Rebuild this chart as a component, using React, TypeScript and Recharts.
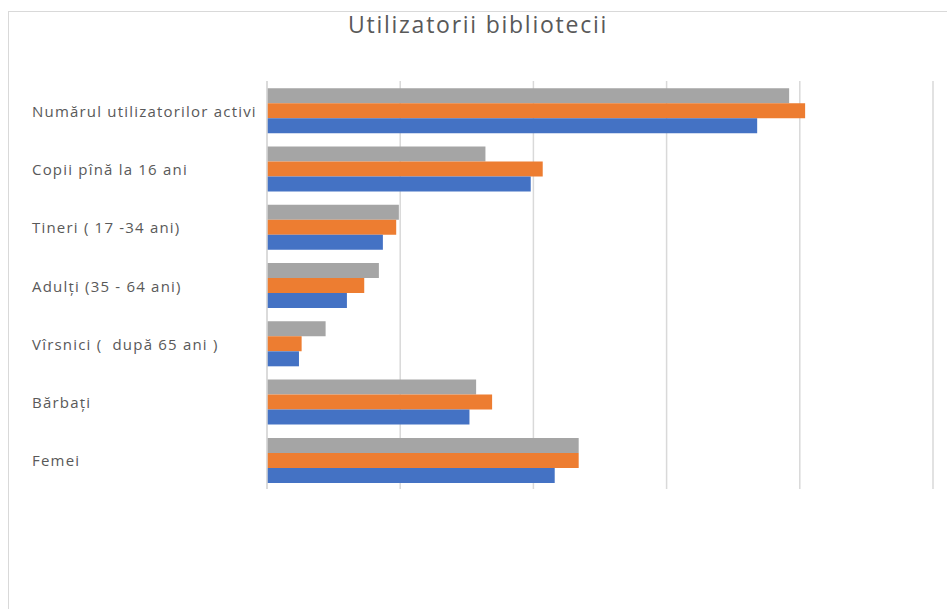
import React from "react";
import { BarChart, Bar, XAxis, YAxis, CartesianGrid } from "recharts";

const categories = [
  "Numărul utilizatorilor activi",
  "Copii pînă la 16 ani",
  "Tineri ( 17 -34 ani)",
  "Adulți (35 - 64 ani)",
  "Vîrsnici (  după 65 ani )",
  "Bărbați",
  "Femei",
];

// three series (grid step = 100)
const seriaGri = [392, 164, 99, 84, 44, 157, 234];
const seriaPortocalie = [404, 207, 97, 73, 26, 169, 234];
const seriaAlbastra = [368, 198, 87, 60, 24, 152, 216];

const xTicks = [0, 100, 200, 300, 400, 500];

const data = categories.map((name, i) => ({
  name,
  gri: seriaGri[i],
  portocaliu: seriaPortocalie[i],
  albastru: seriaAlbastra[i],
}));

const FONT = "'Open Sans', 'Noto Sans', sans-serif";

const CategoryTick = ({ y, payload }: any) => (
  <text
    x={32}
    y={y}
    dy={6.5}
    textAnchor="start"
    fill="#595959"
    fontSize={15}
    letterSpacing={1.2}
    fontFamily={FONT}
    style={{ whiteSpace: "pre" }}
  >
    {payload.value}
  </text>
);

// x ticks are not labelled in the picture, only the grid shows them
const EmptyTick = () => <g />;

export default function App() {
  return (
    <div
      style={{
        position: "absolute",
        left: 0,
        top: 0,
        width: 947,
        height: 609,
        background: "#fff",
        overflow: "hidden",
      }}
    >
      <div
        style={{
          position: "absolute",
          left: 8,
          top: 11,
          width: 980,
          height: 640,
          borderLeft: "1px solid #d9d9d9",
          borderTop: "1px solid #d9d9d9",
        }}
      />
      <div
        style={{
          position: "absolute",
          left: 9,
          top: 9,
          width: 938,
          textAlign: "center",
          fontFamily: FONT,
          fontSize: 23,
          letterSpacing: 1.75,
          lineHeight: "30px",
          color: "#595959",
        }}
      >
        Utilizatorii bibliotecii
      </div>
      <div style={{ position: "absolute", left: 0, top: 0 }}>
        <BarChart
          width={947}
          height={609}
          data={data}
          layout="vertical"
          margin={{ top: 81, right: 14, bottom: 119, left: 32 }}
          barCategoryGap="12.3%"
          barGap={0}
        >
          <CartesianGrid horizontal={false} stroke="#d9d9d9" strokeWidth={1.5} />
          <XAxis
            type="number"
            domain={[0, 500]}
            ticks={xTicks}
            interval={0}
            tick={<EmptyTick />}
            axisLine={false}
            tickLine={false}
            height={1}
          />
          <YAxis
            type="category"
            dataKey="name"
            width={235}
            tick={<CategoryTick />}
            tickLine={false}
            axisLine={{ stroke: "#d9d9d9", strokeWidth: 1.5 }}
            interval={0}
          />
          <Bar dataKey="gri" fill="#a5a5a5" isAnimationActive={false} />
          <Bar dataKey="portocaliu" fill="#ed7d31" isAnimationActive={false} />
          <Bar dataKey="albastru" fill="#4472c4" isAnimationActive={false} />
        </BarChart>
      </div>
    </div>
  );
}
